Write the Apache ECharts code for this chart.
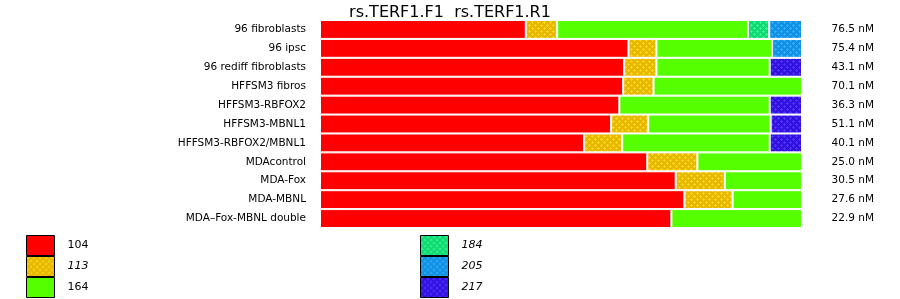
<!DOCTYPE html>
<html>
<head>
<meta charset="utf-8">
<script src="https://cdn.jsdelivr.net/npm/echarts@6/dist/echarts.min.js"></script>
<style>html,body{margin:0;padding:0;background:#fff;}#c{width:900px;height:299px;}</style>
</head>
<body>
<div id="c"></div>
<script>
const categories = ['96 fibroblasts','96 ipsc','96 rediff fibroblasts','HFFSM3 fibros','HFFSM3-RBFOX2','HFFSM3-MBNL1','HFFSM3-RBFOX2/MBNL1','MDAcontrol','MDA-Fox','MDA-MBNL','MDA\u2013Fox-MBNL double'];
const concLabels = ['76.5 nM','75.4 nM','43.1 nM','70.1 nM','36.3 nM','51.1 nM','40.1 nM','25.0 nM','30.5 nM','27.6 nM','22.9 nM'];
const s104 = [42.7, 64.0, 63.1, 62.9, 62.1, 60.4, 54.8, 67.9, 73.8, 75.6, 72.9];
const s113 = [6.5, 5.8, 6.7, 6.3, null, 7.7, 7.9, 10.4, 10.2, 10.0, null];
const s164 = [39.6, 24.0, 23.5, 30.8, 31.2, 25.4, 30.6, 21.7, 16.0, 14.4, 27.1];
const s184 = [4.4, null, null, null, null, null, null, null, null, null, null];
const s205 = [6.8, 6.2, null, null, null, null, null, null, null, null, null];
const s217 = [null, null, 6.7, null, 6.7, 6.5, 6.7, null, null, null, null];
const titleText = 'rs.TERF1.F1  rs.TERF1.R1';

function pattern(base, dot) {
  const c = document.createElement('canvas');
  c.width = 6; c.height = 6;
  const g = c.getContext('2d');
  g.fillStyle = base; g.fillRect(0, 0, 6, 6);
  g.fillStyle = dot;
  const plus = (cx, cy) => {
    g.fillRect(cx - 1, cy, 3, 1);
    g.fillRect(cx, cy - 1, 1, 3);
  };
  plus(1, 1); plus(4, 4);
  return { image: c, repeat: 'repeat' };
}

const colors = {
  '104': '#ff0000',
  '113': pattern('#e5b800', '#ffd21f'),
  '164': '#55ff00',
  '184': pattern('#11d870', '#33f595'),
  '205': pattern('#1090e0', '#33aaff'),
  '217': pattern('#3311dd', '#4a33ff')
};

const seriesData = { '104': s104, '113': s113, '164': s164, '184': s184, '205': s205, '217': s217 };
const font = 'DejaVu Sans';

const chart = echarts.init(document.getElementById('c'), null, { renderer: 'canvas' });
chart.setOption({
  animation: false,
  title: {
    text: titleText, left: 'center', top: 0,
    textStyle: { fontFamily: font, fontSize: 16, fontWeight: 'normal', color: '#000' }
  },
  legend: [
    {
      orient: 'vertical', left: 26, top: 235, padding: 0, itemGap: 0,
      itemWidth: 28, itemHeight: 20, icon: 'rect',
      itemStyle: { borderColor: '#000', borderWidth: 1 },
      textStyle: { fontFamily: font, fontSize: 11, color: '#000', padding: [0, 0, 0, 8] },
      data: [{ name: '104' }, { name: '113', textStyle: { fontStyle: 'italic' } }, { name: '164' }]
    },
    {
      orient: 'vertical', left: 420, top: 235, padding: 0, itemGap: 0,
      itemWidth: 28, itemHeight: 20, icon: 'rect',
      itemStyle: { borderColor: '#000', borderWidth: 1 },
      textStyle: { fontFamily: font, fontSize: 11, color: '#000', fontStyle: 'italic', padding: [0, 0, 0, 8] },
      data: ['184', '205', '217']
    }
  ],
  grid: { left: 320, right: 98, top: 20, height: 208 },
  xAxis: { type: 'value', min: 0, max: 100, show: false },
  yAxis: [
    {
      type: 'category', data: categories, inverse: true,
      axisLine: { show: false }, axisTick: { show: false },
      axisLabel: { fontFamily: font, fontSize: 10.5, color: '#000', margin: 14 }
    },
    {
      type: 'category', data: concLabels, inverse: true, position: 'right',
      axisLine: { show: false }, axisTick: { show: false },
      axisLabel: { fontFamily: font, fontSize: 10.5, color: '#000', margin: 72, align: 'right' }
    }
  ],
  series: Object.keys(seriesData).map(k => ({
    name: k, type: 'bar', stack: 'total', barWidth: '100%',
    data: seriesData[k],
    itemStyle: { color: colors[k], borderColor: '#fff', borderWidth: 1 }
  }))
});
</script>
</body>
</html>
